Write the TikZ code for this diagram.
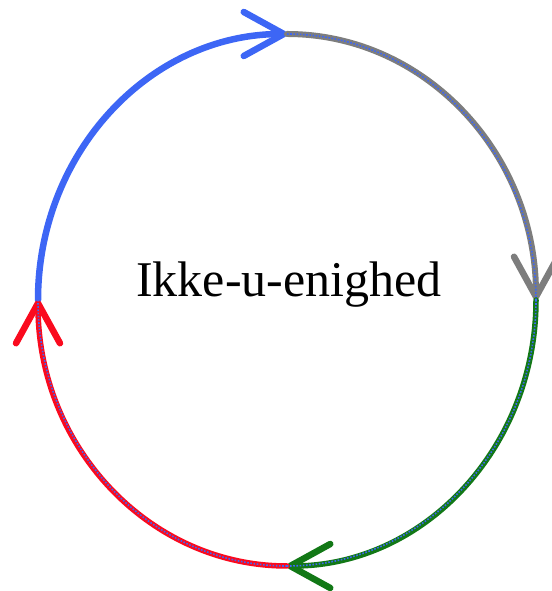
\documentclass[tikz,border=0pt]{standalone}
\usepackage{fontspec}
\setmainfont{Liberation Serif}
\usetikzlibrary{arrows.meta}

\definecolor{arcblue}{RGB}{61,102,245}
\definecolor{arcgray}{RGB}{125,125,125}
\definecolor{arcgreen}{RGB}{18,120,22}
\definecolor{arcred}{RGB}{250,10,30}

\begin{document}
\begin{tikzpicture}[x=1pt,y=1pt,
  cyclearc/.style={line width=#1, line cap=round,
    -{Straight Barb[length=40pt,width=44pt,line width=6.5pt,round]}},
  dotline/.style={arcblue, line width=1.6pt, dash pattern=on 1.6pt off 1.6pt}
  ]
\useasboundingbox (0,0) rectangle (551,591);

\def\rx{249}
\def\ry{266}

% points on the cycle
\coordinate (centre) at (287,291);
\coordinate (left)   at (38,291);
\coordinate (top)    at (287,557);
\coordinate (right)  at (536,291);
\coordinate (bottom) at (287,25);

% the four arcs
\draw[cyclearc=6.5pt, arcblue]  (left)   arc[start angle=180, end angle=90,   x radius=\rx, y radius=\ry];
\draw[cyclearc=6pt, arcgray]    (top)    arc[start angle=90,  end angle=0,    x radius=\rx, y radius=\ry];
\draw[cyclearc=5.5pt, arcgreen] (right)  arc[start angle=0,   end angle=-90,  x radius=\rx, y radius=\ry];
\draw[cyclearc=5.5pt, arcred]   (bottom) arc[start angle=-90, end angle=-180, x radius=\rx, y radius=\ry];

% thin dotted line through the last three arcs
\foreach \from/\a/\b in {top/90/0, right/0/-90, bottom/-90/-180} {
    \draw[dotline] (\from) arc[start angle=\a, end angle=\b, x radius=\rx, y radius=\ry];
  }

\node[anchor=base, inner sep=0pt, font=\fontsize{50}{60}\selectfont] (label) at (289,294) {Ikke-u-enighed};

\end{tikzpicture}
\end{document}
